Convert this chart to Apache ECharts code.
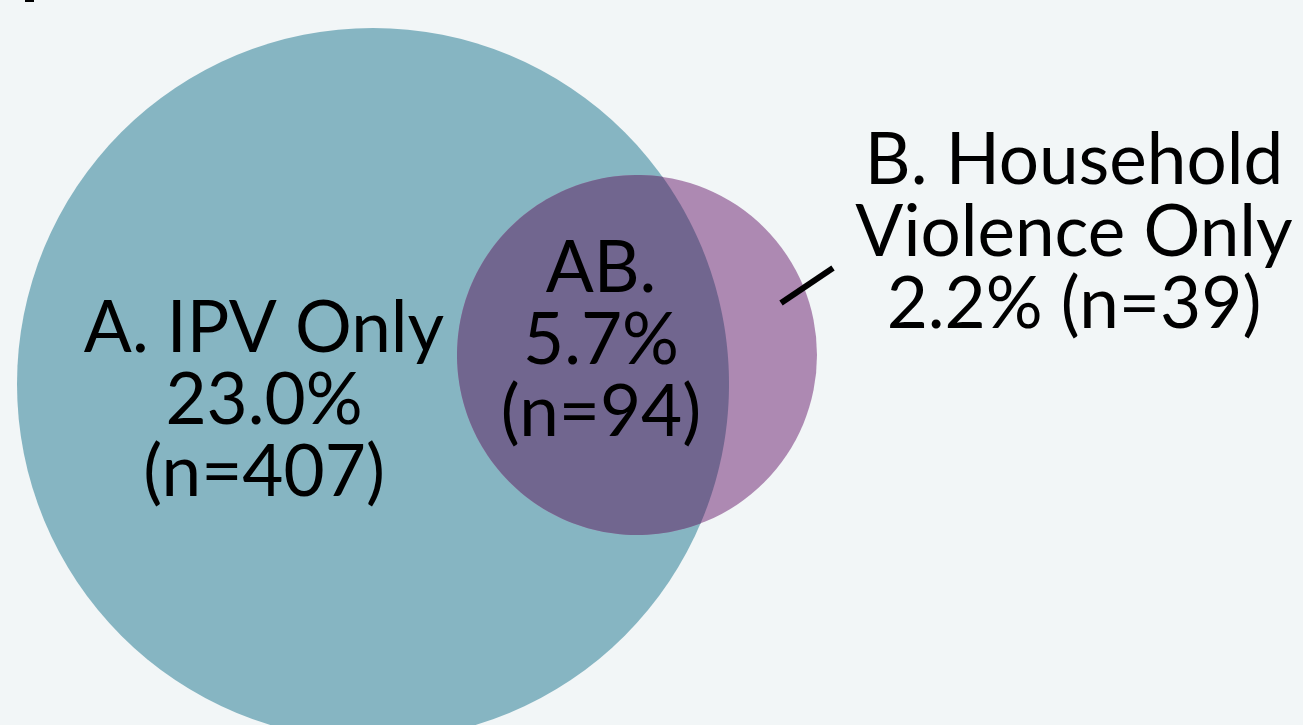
<!DOCTYPE html>
<html>
<head>
<meta charset="utf-8">
<script src="https://cdn.jsdelivr.net/npm/echarts@6/dist/echarts.min.js"></script>
<style>
  html, body { margin: 0; padding: 0; background: #f2f6f7; }
  #venn { width: 1303px; height: 725px; }
</style>
</head>
<body>
<div id="venn"></div>
<script>
// sets (circle centre + radius in chart units, 1 unit = 1px)
const setNames = ['A', 'B'];
const centerX = [373, 637];
const centerY = [384, 355];
const radius = [356, 180];
const setColors = ['#86b5c2', '#ad89b2'];
const overlapColor = '#71668f';

// regions: A only, AB, B only
const regionNames = ['A. IPV Only', 'AB.', 'B. Household\nViolence Only'];
const regionPct = ['23.0%', '5.7%', '2.2%'];
const regionN = [407, 94, 39];

// label layout
const labelX = [264, 601, 1074];
const labelY = [401, 341, 233];
const leaderX = [781, 833];
const leaderY = [303, 268];

function regionText(i) {
    if (i === 2) return regionNames[i] + '\n' + regionPct[i] + ' (n=' + regionN[i] + ')';
    return regionNames[i] + '\n' + regionPct[i] + '\n(n=' + regionN[i] + ')';
}

let chart = echarts.init(document.getElementById('venn'));

const circleData = setNames.map(function (n, i) {
    return [centerX[i], centerY[i], radius[i]];
});

const option = {
    backgroundColor: '#f2f6f7',
    animation: false,
    grid: { left: 0, right: 0, top: 0, bottom: 0 },
    xAxis: { type: 'value', min: 0, max: 1303, show: false },
    yAxis: { type: 'value', min: 0, max: 725, inverse: true, show: false },
    graphic: [
        { type: 'rect', shape: { x: 25, y: 0, width: 9, height: 2 }, style: { fill: '#000' } }
    ],
    series: [
        {
            type: 'custom',
            silent: true,
            data: circleData,
            renderItem: function (params, api) {
                let c = api.coord([api.value(0), api.value(1)]);
                let r = api.size([api.value(2), 0])[0];
                return {
                    type: 'circle',
                    shape: { cx: c[0], cy: c[1], r: r },
                    style: { fill: setColors[params.dataIndex] }
                };
            }
        },
        {
            // overlap lens, built from both circles
            type: 'custom',
            silent: true,
            data: [[0]],
            renderItem: function (params, api) {
                let c1 = api.coord([centerX[0], centerY[0]]);
                let c2 = api.coord([centerX[1], centerY[1]]);
                let r1 = api.size([radius[0], 0])[0];
                let r2 = api.size([radius[1], 0])[0];
                let dx = c2[0] - c1[0], dy = c2[1] - c1[1];
                let d = Math.sqrt(dx * dx + dy * dy);
                let a = (r1 * r1 - r2 * r2 + d * d) / (2 * d);
                let phi = Math.atan2(dy, dx);
                let al1 = Math.acos(a / r1);
                let al2 = Math.acos((d - a) / r2);
                let pts = [];
                let steps = 120;
                for (let k = 0; k <= steps; k++) {
                    let t = phi - al1 + 2 * al1 * k / steps;
                    pts.push([c1[0] + r1 * Math.cos(t), c1[1] + r1 * Math.sin(t)]);
                }
                let phi2 = phi + Math.PI;
                for (let k = 0; k <= steps; k++) {
                    let t = phi2 - al2 + 2 * al2 * k / steps;
                    pts.push([c2[0] + r2 * Math.cos(t), c2[1] + r2 * Math.sin(t)]);
                }
                return {
                    type: 'polygon',
                    shape: { points: pts },
                    style: { fill: overlapColor }
                };
            }
        },
        {
            type: 'line',
            silent: true,
            symbol: 'none',
            data: [[leaderX[0], leaderY[0]], [leaderX[1], leaderY[1]]],
            lineStyle: { color: '#000', width: 6 },
            z: 5
        },
        {
            type: 'custom',
            silent: true,
            z: 6,
            data: regionNames.map(function (n, i) { return [labelX[i], labelY[i]]; }),
            renderItem: function (params, api) {
                let p = api.coord([api.value(0), api.value(1)]);
                return {
                    type: 'text',
                    x: p[0],
                    y: p[1],
                    style: {
                        text: regionText(params.dataIndex),
                        fill: '#000',
                        font: '71px Lato',
                        lineHeight: 72,
                        align: 'center',
                        verticalAlign: 'middle'
                    }
                };
            }
        }
    ]
};

chart.setOption(option);

window.addEventListener('resize', function () {
    chart.resize();
});
</script>
</body>
</html>
